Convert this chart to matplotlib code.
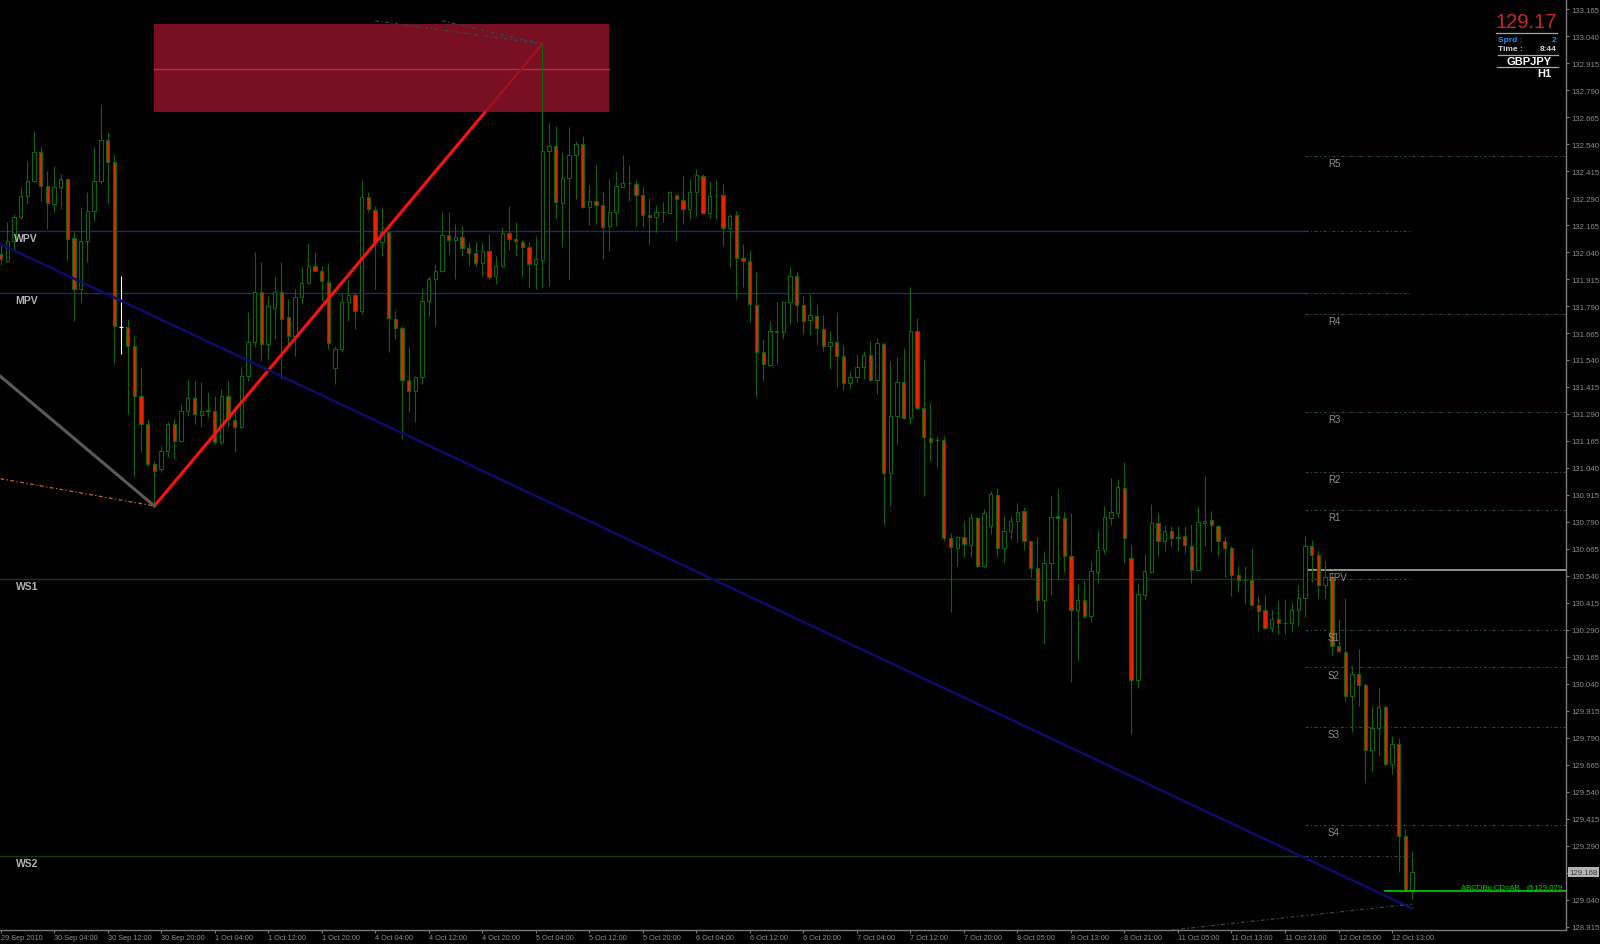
import matplotlib
matplotlib.use('Agg')
import matplotlib.pyplot as plt
from matplotlib.patches import Rectangle
from matplotlib.lines import Line2D
from matplotlib.transforms import blended_transform_factory, offset_copy
import numpy as np

plt.rcParams['font.family'] = ['Liberation Sans', 'DejaVu Sans']

# GBPJPY H1 candles, 29 Sep 2010 20:00 .. 12 Oct 2010 16:00
opens = [132.030, 132.000, 132.093, 132.201, 132.301, 132.371, 132.502, 132.345, 132.263, 132.340,
         132.378, 132.104, 131.869, 132.093, 132.232, 132.371, 132.561, 132.456, 131.694, 131.694,
         131.606, 131.375, 131.244, 131.058, 131.035, 131.120, 131.244, 131.166, 131.305, 131.362,
         131.285, 131.302, 131.305, 131.159, 131.375, 131.264, 131.228, 131.467, 131.625, 131.853,
         131.614, 131.779, 131.853, 131.738, 131.653, 131.830, 131.897, 131.974, 131.954, 131.903,
         131.501, 131.591, 131.807, 131.841, 131.766, 132.294, 132.236, 132.088, 132.134, 131.730,
         131.690, 131.449, 131.398, 131.460, 131.815, 131.915, 131.951, 132.119, 132.096, 132.108,
         132.057, 132.036, 131.989, 132.046, 131.928, 131.977, 132.127, 132.101, 132.085, 132.065,
         131.985, 132.005, 132.510, 132.530, 132.267, 132.382, 132.490, 132.541, 132.247, 132.278,
         132.258, 132.162, 132.224, 132.343, 132.358, 132.355, 132.304, 132.211, 132.201, 132.224,
         132.221, 132.304, 132.281, 132.239, 132.316, 132.394, 132.221, 132.301, 132.304, 132.150,
         132.211, 132.011, 131.997, 131.796, 131.575, 131.518, 131.676, 131.668, 131.810, 131.927,
         131.795, 131.727, 131.745, 131.683, 131.603, 131.622, 131.557, 131.433, 131.460, 131.506,
         131.563, 131.449, 131.614, 131.016, 131.279, 131.436, 131.270, 131.676, 131.316, 131.179,
         131.169, 131.171, 130.715, 130.669, 130.722, 130.684, 130.808, 130.584, 130.772, 130.914,
         130.667, 130.746, 130.796, 130.839, 130.700, 130.576, 130.430, 130.600, 130.816, 130.806,
         130.633, 130.382, 130.430, 130.353, 130.556, 130.660, 130.808, 130.831, 130.945, 130.623,
         130.059, 130.451, 130.556, 130.783, 130.703, 130.746, 130.715, 130.723, 130.680, 130.569,
         130.786, 130.797, 130.773, 130.703, 130.668, 130.544, 130.522, 130.522, 130.407, 130.383,
         130.297, 130.340, 130.320, 130.320, 130.384, 130.436, 130.677, 130.638, 130.499, 130.533,
         130.214, 130.189, 129.985, 130.086, 130.035, 129.734, 129.834, 129.934, 129.669, 129.761,
         129.334, 129.085]
highs = [132.080, 132.178, 132.216, 132.348, 132.463, 132.602, 132.533, 132.417, 132.440, 132.402,
         132.382, 132.131, 132.247, 132.317, 132.525, 132.726, 132.595, 132.494, 131.931, 131.730,
         131.656, 131.506, 131.267, 131.074, 131.143, 131.251, 131.267, 131.336, 131.452, 131.444,
         131.440, 131.390, 131.375, 131.406, 131.444, 131.329, 131.506, 131.761, 132.039, 131.992,
         131.838, 131.923, 131.992, 131.823, 131.869, 131.969, 132.082, 132.039, 131.977, 131.989,
         131.606, 131.846, 131.915, 131.857, 132.375, 132.320, 132.255, 132.247, 132.139, 131.772,
         131.696, 131.599, 131.467, 131.869, 131.931, 131.985, 132.227, 132.227, 132.170, 132.162,
         132.088, 132.085, 132.085, 132.124, 132.020, 132.158, 132.255, 132.181, 132.097, 132.085,
         132.116, 133.004, 132.641, 132.625, 132.502, 132.618, 132.556, 132.579, 132.351, 132.443,
         132.316, 132.378, 132.417, 132.489, 132.443, 132.375, 132.347, 132.289, 132.258, 132.270,
         132.324, 132.309, 132.391, 132.378, 132.425, 132.401, 132.370, 132.375, 132.355, 132.216,
         132.232, 132.077, 132.049, 131.946, 131.637, 131.722, 131.807, 131.815, 131.972, 131.946,
         131.838, 131.846, 131.795, 131.748, 131.676, 131.761, 131.609, 131.490, 131.568, 131.583,
         131.629, 131.640, 131.625, 131.537, 131.552, 131.595, 131.876, 131.734, 131.544, 131.344,
         131.186, 131.186, 130.738, 130.726, 130.796, 130.831, 130.811, 130.850, 130.935, 130.945,
         130.816, 130.816, 130.877, 130.857, 130.703, 130.718, 130.657, 130.908, 130.942, 130.834,
         130.830, 130.502, 130.518, 130.610, 130.754, 130.862, 130.992, 130.989, 131.069, 130.683,
         130.502, 130.641, 130.873, 130.830, 130.776, 130.769, 130.769, 130.769, 130.780, 130.857,
         131.004, 130.842, 130.776, 130.719, 130.677, 130.587, 130.587, 130.668, 130.445, 130.451,
         130.384, 130.425, 130.433, 130.421, 130.498, 130.726, 130.708, 130.657, 130.611, 130.557,
         130.340, 130.436, 130.124, 130.201, 130.044, 129.939, 130.019, 129.942, 129.797, 129.788,
         129.368, 129.267]
lows = [131.980, 131.992, 132.039, 132.193, 132.263, 132.363, 132.278, 132.147, 132.224, 132.239,
        132.000, 131.722, 131.807, 131.992, 132.185, 132.355, 132.263, 131.522, 131.568, 131.290,
        131.004, 131.112, 131.051, 130.864, 131.020, 131.089, 131.081, 131.159, 131.282, 131.244,
        131.228, 131.274, 131.151, 131.151, 131.228, 131.112, 131.220, 131.444, 131.599, 131.537,
        131.545, 131.637, 131.452, 131.606, 131.560, 131.799, 131.892, 131.946, 131.815, 131.591,
        131.429, 131.576, 131.722, 131.684, 131.753, 132.224, 131.869, 132.023, 131.576, 131.637,
        131.174, 131.301, 131.251, 131.429, 131.745, 131.699, 131.946, 132.031, 131.915, 132.023,
        131.977, 131.977, 131.931, 131.915, 131.892, 131.969, 132.051, 132.023, 131.923, 131.877,
        131.869, 131.877, 131.884, 132.193, 132.062, 131.915, 132.286, 132.243, 132.165, 132.170,
        132.008, 132.046, 132.162, 132.340, 132.278, 132.159, 132.162, 132.077, 132.134, 132.177,
        132.216, 132.093, 132.170, 132.193, 132.208, 132.216, 132.193, 132.193, 132.069, 131.969,
        131.822, 131.876, 131.717, 131.367, 131.444, 131.514, 131.521, 131.637, 131.707, 131.714,
        131.660, 131.656, 131.614, 131.583, 131.498, 131.413, 131.402, 131.405, 131.436, 131.452,
        131.444, 131.382, 130.776, 130.862, 131.151, 131.265, 131.243, 131.310, 130.908, 131.074,
        131.043, 130.703, 130.371, 130.587, 130.626, 130.626, 130.580, 130.580, 130.734, 130.626,
        130.606, 130.711, 130.698, 130.661, 130.533, 130.374, 130.224, 130.451, 130.525, 130.559,
        130.047, 130.147, 130.343, 130.328, 130.507, 130.641, 130.776, 130.811, 130.600, 129.807,
        130.019, 130.433, 130.553, 130.633, 130.657, 130.680, 130.657, 130.646, 130.507, 130.566,
        130.680, 130.652, 130.631, 130.533, 130.445, 130.464, 130.410, 130.402, 130.286, 130.294,
        130.282, 130.271, 130.271, 130.282, 130.310, 130.348, 130.513, 130.436, 130.436, 130.174,
        130.186, 129.962, 129.816, 129.939, 129.581, 129.630, 129.707, 129.661, 129.622, 129.170,
        129.082, 129.043]
closes = [132.010, 132.093, 132.201, 132.301, 132.371, 132.502, 132.348, 132.267, 132.340, 132.378,
          132.101, 131.869, 132.093, 132.232, 132.371, 132.561, 132.456, 131.699, 131.694, 131.606,
          131.375, 131.244, 131.058, 131.027, 131.120, 131.244, 131.166, 131.305, 131.362, 131.290,
          131.302, 131.308, 131.159, 131.375, 131.267, 131.228, 131.467, 131.625, 131.853, 131.614,
          131.789, 131.853, 131.730, 131.653, 131.830, 131.897, 131.977, 131.954, 131.908, 131.617,
          131.591, 131.807, 131.841, 131.769, 132.294, 132.239, 132.088, 132.134, 131.733, 131.687,
          131.449, 131.398, 131.460, 131.815, 131.915, 131.951, 132.119, 132.096, 132.108, 132.057,
          132.036, 131.989, 132.046, 131.923, 131.977, 132.127, 132.101, 132.090, 132.065, 131.985,
          132.008, 132.510, 132.533, 132.270, 132.382, 132.490, 132.541, 132.247, 132.278, 132.258,
          132.154, 132.224, 132.344, 132.358, 132.358, 132.304, 132.211, 132.204, 132.224, 132.224,
          132.316, 132.286, 132.239, 132.316, 132.398, 132.221, 132.301, 132.301, 132.150, 132.208,
          132.011, 132.000, 131.799, 131.578, 131.521, 131.676, 131.668, 131.807, 131.927, 131.795,
          131.722, 131.748, 131.686, 131.603, 131.622, 131.557, 131.433, 131.460, 131.506, 131.563,
          131.449, 131.619, 131.016, 131.279, 131.436, 131.270, 131.676, 131.316, 131.182, 131.162,
          131.169, 130.715, 130.672, 130.722, 130.688, 130.806, 130.584, 130.830, 130.919, 130.667,
          130.746, 130.792, 130.837, 130.700, 130.576, 130.430, 130.600, 130.814, 130.806, 130.630,
          130.382, 130.430, 130.356, 130.561, 130.660, 130.811, 130.834, 130.950, 130.715, 130.058,
          130.456, 130.561, 130.783, 130.703, 130.746, 130.715, 130.721, 130.683, 130.569, 130.788,
          130.793, 130.776, 130.700, 130.669, 130.544, 130.519, 130.522, 130.407, 130.379, 130.297,
          130.340, 130.322, 130.320, 130.384, 130.436, 130.677, 130.638, 130.499, 130.533, 130.214,
          130.191, 129.985, 130.086, 130.035, 129.734, 129.834, 129.934, 129.669, 129.761, 129.337,
          129.085, 129.168]

time_labels = ['29 Sep 2010', '30 Sep 04:00', '30 Sep 12:00', '30 Sep 20:00', '1 Oct 04:00',
               '1 Oct 12:00', '1 Oct 20:00', '4 Oct 04:00', '4 Oct 12:00', '4 Oct 20:00',
               '5 Oct 04:00', '5 Oct 12:00', '5 Oct 20:00', '6 Oct 04:00', '6 Oct 12:00',
               '6 Oct 20:00', '7 Oct 04:00', '7 Oct 12:00', '7 Oct 20:00', '8 Oct 05:00',
               '8 Oct 13:00', '8 Oct 21:00', '11 Oct 05:00', '11 Oct 13:00', '11 Oct 21:00',
               '12 Oct 05:00', '12 Oct 13:00']
bars_per_label = 8

# pivot levels (daily) drawn from the last day start
pivot_names = ['R5', 'R4', 'R3', 'R2', 'R1', 'FPV', 'S1', 'S2', 'S3', 'S4']
pivot_values = [132.483, 131.753, 131.300, 131.022, 130.845, 130.569, 130.291, 130.116, 129.839, 129.386]
day_start_bar = 195

# weekly / monthly levels
period_names = ['WPV', 'MPV', 'WS1', 'WS2']
period_values = [132.136, 131.849, 130.525, 129.241]
period_colors = ['#1d2b63', '#1d2b63', '#123d12', '#123d12']
period_end_bar = 211

# ABCD pattern
point_a = (23, 130.864)
point_b = (81, 133.004)
zone_bars = (23, 91)
zone_prices = (132.690, 133.096)
zone_mid = 132.888
abcd_start_bar = 207
abcd_target = 129.079

# trend lines (bar, price)
blue_line = [(0, 132.077), (211, 129.000)]
grey_line = [(0, 131.464), point_a]
orange_line = [(0, 130.990), point_a]
top_proj_1 = [(56, 133.111), (81, 133.004)]
top_proj_2 = [(66, 133.111), (81, 133.004)]
bottom_proj = [(175, 128.900), (211, 129.020)]

spread = 2
bar_time = '8:44'

GREEN = '#0d660d'
RED = '#f21d00'
TXT = '#8c8c8c'

W, H = 1600, 945
fig = plt.figure(figsize=(W / 100, H / 100), dpi=100, facecolor='black')
ax = fig.add_axes([0, 14 / H, 1566 / W, 931 / H])
ax.set_facecolor('black')

n = len(opens)
xs = np.arange(n)
o = np.array(opens)
hi = np.array(highs)
lo = np.array(lows)
c = np.array(closes)

# candles
wick_col = [GREEN] * n
wick_col[18] = 'white'
ax.vlines(xs, lo, hi, colors=wick_col, linewidth=0.8, zorder=3)
fills = np.where(c < o, RED, 'black')
edges = list(wick_col)
ax.bar(xs, np.abs(c - o), bottom=np.minimum(o, c), width=0.5, color=fills,
       edgecolor=edges, linewidth=0.8, zorder=4)

# horizontal period levels
for name, val, col in zip(period_names, period_values, period_colors):
    ax.plot([-1, day_start_bar], [val, val], color=col, lw=1.0, zorder=2)
    ax.plot([day_start_bar, period_end_bar], [val, val], color='#2c4444', lw=0.8,
            dashes=(3, 2, 1, 2), zorder=2)
    t = offset_copy(ax.transData, fig=fig, x=0, y=-1.5, units='points')
    ax.text(5.6, val, name, transform=t, ha='right', va='top', color='#b4b4b4',
            fontsize=7.5, fontweight='bold', zorder=6)

# daily pivots
for name, val in zip(pivot_names, pivot_values):
    if name == 'FPV':
        ax.plot([day_start_bar, 240], [val, val], color='#b8b8b8', lw=1.1, zorder=2)
    else:
        ax.plot([day_start_bar, 240], [val, val], color='#2c4444', lw=0.8,
                dashes=(3, 2, 1, 2), zorder=2)
    t = offset_copy(ax.transData, fig=fig, x=0, y=-1.5, units='points')
    ax.text(198.4, val, name, transform=t, ha='left', va='top', color=TXT,
            fontsize=7, zorder=6)

# ABCD zone
ax.add_patch(Rectangle((zone_bars[0], zone_prices[0]), zone_bars[1] - zone_bars[0],
                       zone_prices[1] - zone_prices[0], facecolor='#790f23',
                       edgecolor='none', zorder=1))
ax.plot(zone_bars, [zone_mid, zone_mid], color='#c8243c', lw=1.0, zorder=1.5)

# AB leg: bright outside the zone, dimmer inside
t_cut = (zone_prices[0] - point_a[1]) / (point_b[1] - point_a[1])
cut_bar = point_a[0] + t_cut * (point_b[0] - point_a[0])
ax.plot([point_a[0], cut_bar], [point_a[1], zone_prices[0]], color='#ff1010', lw=2.2,
        zorder=5, solid_capstyle='butt')
ax.plot([cut_bar, point_b[0]], [zone_prices[0], point_b[1]], color='#a3121f', lw=1.6,
        zorder=1.6)

ax.plot(*zip(*grey_line), color='#5a5a5a', lw=2.2, zorder=5)
ax.plot(*zip(*orange_line), color='#d2601c', lw=0.9, dashes=(3, 2, 1, 2), zorder=5)
ax.plot(*zip(*blue_line), color='#0c0c68', lw=1.9, zorder=5)
for seg in (top_proj_1, top_proj_2, bottom_proj):
    ax.plot(*zip(*seg), color='#2f4a4a', lw=0.9, dashes=(3, 2, 1, 2), zorder=5)

# ABCD target line
ax.plot([abcd_start_bar, 240], [abcd_target, abcd_target], color='#00d200', lw=1.2, zorder=6)
t = offset_copy(ax.transData, fig=fig, x=-1, y=1, units='points')
ax.text(233.7, abcd_target, 'ABCDBu CD=AB   @%.3f' % abcd_target, transform=t,
        ha='right', va='bottom', color='#00d200', fontsize=5.6, zorder=7)

# axes
ax.set_xlim(-0.075, 234.0)
ax.set_ylim(128.900, 133.212)
for side in ('left', 'top'):
    ax.spines[side].set_visible(False)
for side in ('right', 'bottom'):
    ax.spines[side].set_color('#7a7a7a')
    ax.spines[side].set_linewidth(1.0)
ax.plot([95.7, 240], [133.212, 133.212], color='#9a9a9a', lw=1.2, zorder=7, clip_on=False)

ax.yaxis.tick_right()
yt = np.round(np.arange(128.915, 133.17, 0.125), 3)
ax.set_yticks(yt)
ax.set_yticklabels(['%.3f' % v for v in yt])
ax.tick_params(axis='y', colors='#7a7a7a', labelcolor=TXT, length=2.5, width=0.8,
               pad=1.5, labelsize=5.6)

xt = np.arange(len(time_labels)) * bars_per_label
ax.set_xticks(xt)
ax.set_xticklabels(time_labels)
ax.tick_params(axis='x', colors='#7a7a7a', labelcolor=TXT, length=2.5, width=0.8,
               pad=0.5, labelsize=5.3)
for lab in ax.get_xticklabels():
    lab.set_ha('left')

# current price marker on the scale
ax.annotate('%.3f' % closes[-1], xy=(1.0, closes[-1]),
            xycoords=blended_transform_factory(ax.transAxes, ax.transData),
            xytext=(2.5, 0), textcoords='offset points', ha='left', va='center',
            fontsize=5.6, color='#3a3a3a', annotation_clip=False,
            bbox=dict(boxstyle='square,pad=0.15', facecolor='#b4b4b4', edgecolor='none'))

# info panel top right
def fy(y):
    return 1 - y / H

fig.text(1557 / W, fy(22.5), '%.2f' % closes[-1], ha='right', va='center',
         color='#c8282c', fontsize=14.5)
for y0, x0, x1 in ((34.3, 1496, 1557), (56, 1498, 1558), (68, 1497, 1558)):
    fig.add_artist(Line2D([x0 / W, x1 / W], [fy(y0), fy(y0)], color='#a8a8a8', lw=0.9))
fig.text(1497.5 / W, fy(40.7), 'Sprd :', ha='left', va='center', color='#1e8cff',
         fontsize=6, fontweight='bold')
fig.text(1556.5 / W, fy(40.7), str(spread), ha='right', va='center', color='#1e8cff',
         fontsize=6, fontweight='bold')
fig.text(1497.5 / W, fy(49.3), 'Time :', ha='left', va='center', color='#d8d8d8',
         fontsize=6, fontweight='bold')
fig.text(1556.5 / W, fy(49.3), bar_time, ha='right', va='center', color='#d8d8d8',
         fontsize=6, fontweight='bold')
fig.text(1529 / W, fy(61.7), 'GBPJPY', ha='center', va='center', color='white',
         fontsize=8, fontweight='bold')
fig.text(1551 / W, fy(74), 'H1', ha='right', va='center', color='white',
         fontsize=8, fontweight='bold')

fig.savefig('out.png', dpi=100, facecolor='black')
